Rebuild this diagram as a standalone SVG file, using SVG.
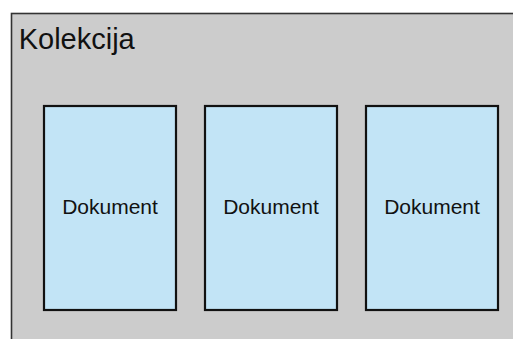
<svg xmlns="http://www.w3.org/2000/svg" width="513" height="339" viewBox="0 0 513 339">
<style>
.doc rect{fill:#c2e4f6;stroke:#111;stroke-width:2.2}
.doc text{font-family:"Liberation Sans",Arial,sans-serif;font-size:21px;fill:#111;text-anchor:middle}
</style>
<rect width="513" height="339" fill="#ffffff"/>
<g id="kolekcija">
<rect x="11.5" y="13.5" width="510" height="340" fill="#cccccc" stroke="#333333" stroke-width="1.6"/>
<text x="18.7" y="48.5" font-family="Liberation Sans, Arial, sans-serif" font-size="29" fill="#111">Kolekcija</text>
</g>
<g id="dokument1" class="doc">
<rect x="44" y="106" width="132" height="204"/>
<text x="110" y="214">Dokument</text>
</g>
<g id="dokument2" class="doc">
<rect x="205" y="106" width="132" height="204"/>
<text x="271" y="214">Dokument</text>
</g>
<g id="dokument3" class="doc">
<rect x="366" y="106" width="132" height="204"/>
<text x="432" y="214">Dokument</text>
</g>
<g id="connectors"/>
</svg>
